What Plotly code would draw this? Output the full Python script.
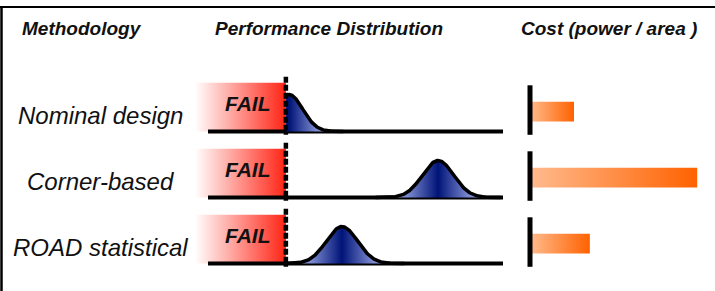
import numpy as np
import plotly.graph_objects as go

# ---- data ----
methods = ["Nominal design", "Corner-based", "ROAD statistical"]
headers = ["Methodology", "Performance Distribution", "Cost (power / area )"]
fail_label = "FAIL"
fail_threshold = 2.64          # performance units (axis spans 0..10)
perf_axis_max = 10.0
perf_mean = [2.75, 7.80, 4.54]
perf_sigma = [0.46, 0.53, 0.53]
cost = [1.0, 3.8, 1.36]        # relative to nominal

# ---- geometry / style ----
W, H = 715, 291
PX_PERF = 29.5                 # px per performance unit
PERF_X0 = 208                  # px of performance 0
PX_COST = 44                   # px per cost unit
COST_X0 = 530
ROW_PX = 66
ROW0 = 131.5
PEAK = 0.56

fig = go.Figure()

xr = [-PERF_X0 / PX_PERF, (W - PERF_X0) / PX_PERF]
x2r = [-COST_X0 / PX_COST, (W - COST_X0) / PX_COST]
yr = [(H - ROW0) / ROW_PX, -ROW0 / ROW_PX]

blue_scale = [[0, "#7f8dd2"], [0.5, "#001478"], [1, "#7f8dd2"]]
red_scale = [[0, "#ffffff"], [1, "#ff2415"]]
orange_scale = [[0, "#ffbb8e"], [1, "#ff6200"]]

for i, name in enumerate(methods):
    # FAIL region
    fig.add_trace(go.Scatter(
        x=[-0.45, fail_threshold, fail_threshold, -0.45, -0.45],
        y=[i - 0.74, i - 0.74, i, i, i - 0.74],
        mode="lines", line=dict(width=0), fill="toself",
        fillgradient=dict(type="horizontal", colorscale=red_scale),
        hoverinfo="skip", showlegend=False))
    # baseline
    fig.add_trace(go.Scatter(
        x=[0, perf_axis_max], y=[i, i], mode="lines",
        line=dict(color="black", width=4), hoverinfo="skip", showlegend=False))
    # distribution
    m, s = perf_mean[i], perf_sigma[i]
    lo = max(m - 4 * s, fail_threshold)
    xs = np.linspace(lo, m + 4 * s, 240)
    ys = i - PEAK * np.exp(-0.5 * ((xs - m) / s) ** 2)
    fig.add_trace(go.Scatter(
        x=list(xs) + [xs[-1], xs[0], xs[0]],
        y=list(ys) + [i, i, ys[0]],
        mode="lines", line=dict(width=0), fill="toself",
        fillgradient=dict(type="horizontal", colorscale=blue_scale,
                          start=m - 2 * s, stop=m + 2 * s),
        hoverinfo="skip", showlegend=False))
    fig.add_trace(go.Scatter(
        x=xs, y=ys, mode="lines", line=dict(color="black", width=3.5),
        hoverinfo="skip", showlegend=False))
    # threshold dashed line
    fig.add_trace(go.Scatter(
        x=[fail_threshold, fail_threshold], y=[i - 0.83, i + 0.05],
        mode="lines", line=dict(color="black", width=4.5, dash="6px,2px"),
        hoverinfo="skip", showlegend=False))
    # cost bar
    c = cost[i]
    fig.add_trace(go.Scatter(
        x=[0, c, c, 0, 0], y=[i - 0.45, i - 0.45, i - 0.15, i - 0.15, i - 0.45],
        xaxis="x2", mode="lines", line=dict(width=0), fill="toself",
        fillgradient=dict(type="horizontal", colorscale=orange_scale),
        hoverinfo="skip", showlegend=False))
    fig.add_trace(go.Scatter(
        x=[0, 0], y=[i - 0.70, i + 0.05], xaxis="x2", mode="lines",
        line=dict(color="black", width=5), hoverinfo="skip", showlegend=False))

annotations = []
for i, name in enumerate(methods):
    annotations.append(dict(
        x=100 / W, xref="paper", y=i - 0.24, yref="y", text="<i>" + name + "</i>",
        showarrow=False, xanchor="center", yanchor="middle",
        font=dict(family="Liberation Sans, Arial", size=24, color="#111111")))
    annotations.append(dict(
        x=1.35, xref="x", y=i - 0.43, yref="y", text="<b><i>" + fail_label + "</i></b>",
        showarrow=False, xanchor="center", yanchor="middle",
        font=dict(family="Liberation Sans, Arial", size=21, color="#111111")))

header_x = [20, 213, 519]
for hx, htxt in zip(header_x, headers):
    annotations.append(dict(
        x=hx / W, xref="paper", y=1 - 29 / H, yref="paper",
        text="<b><i>" + htxt + "</i></b>", showarrow=False,
        xanchor="left", yanchor="middle",
        font=dict(family="Liberation Sans, Arial", size=19, color="#111111")))

shapes = [
    dict(type="line", xref="paper", yref="paper", x0=0, x1=1,
         y0=1 - 7 / H, y1=1 - 7 / H, line=dict(color="black", width=2)),
    dict(type="line", xref="paper", yref="paper", x0=1.5 / W, x1=1.5 / W,
         y0=0, y1=1 - 7 / H, line=dict(color="black", width=2.5)),
]

fig.update_layout(
    width=W, height=H, margin=dict(l=0, r=0, t=0, b=0),
    paper_bgcolor="white", plot_bgcolor="white",
    xaxis=dict(range=xr, visible=False, domain=[0, 1], fixedrange=True),
    xaxis2=dict(range=x2r, visible=False, overlaying="x", anchor="y", fixedrange=True),
    yaxis=dict(range=yr, visible=False, fixedrange=True),
    annotations=annotations, shapes=shapes, showlegend=False,
)

fig.write_html("out.html", config={"displayModeBar": False},
               post_script="document.body.style.margin='0';document.body.style.overflow='hidden';")
